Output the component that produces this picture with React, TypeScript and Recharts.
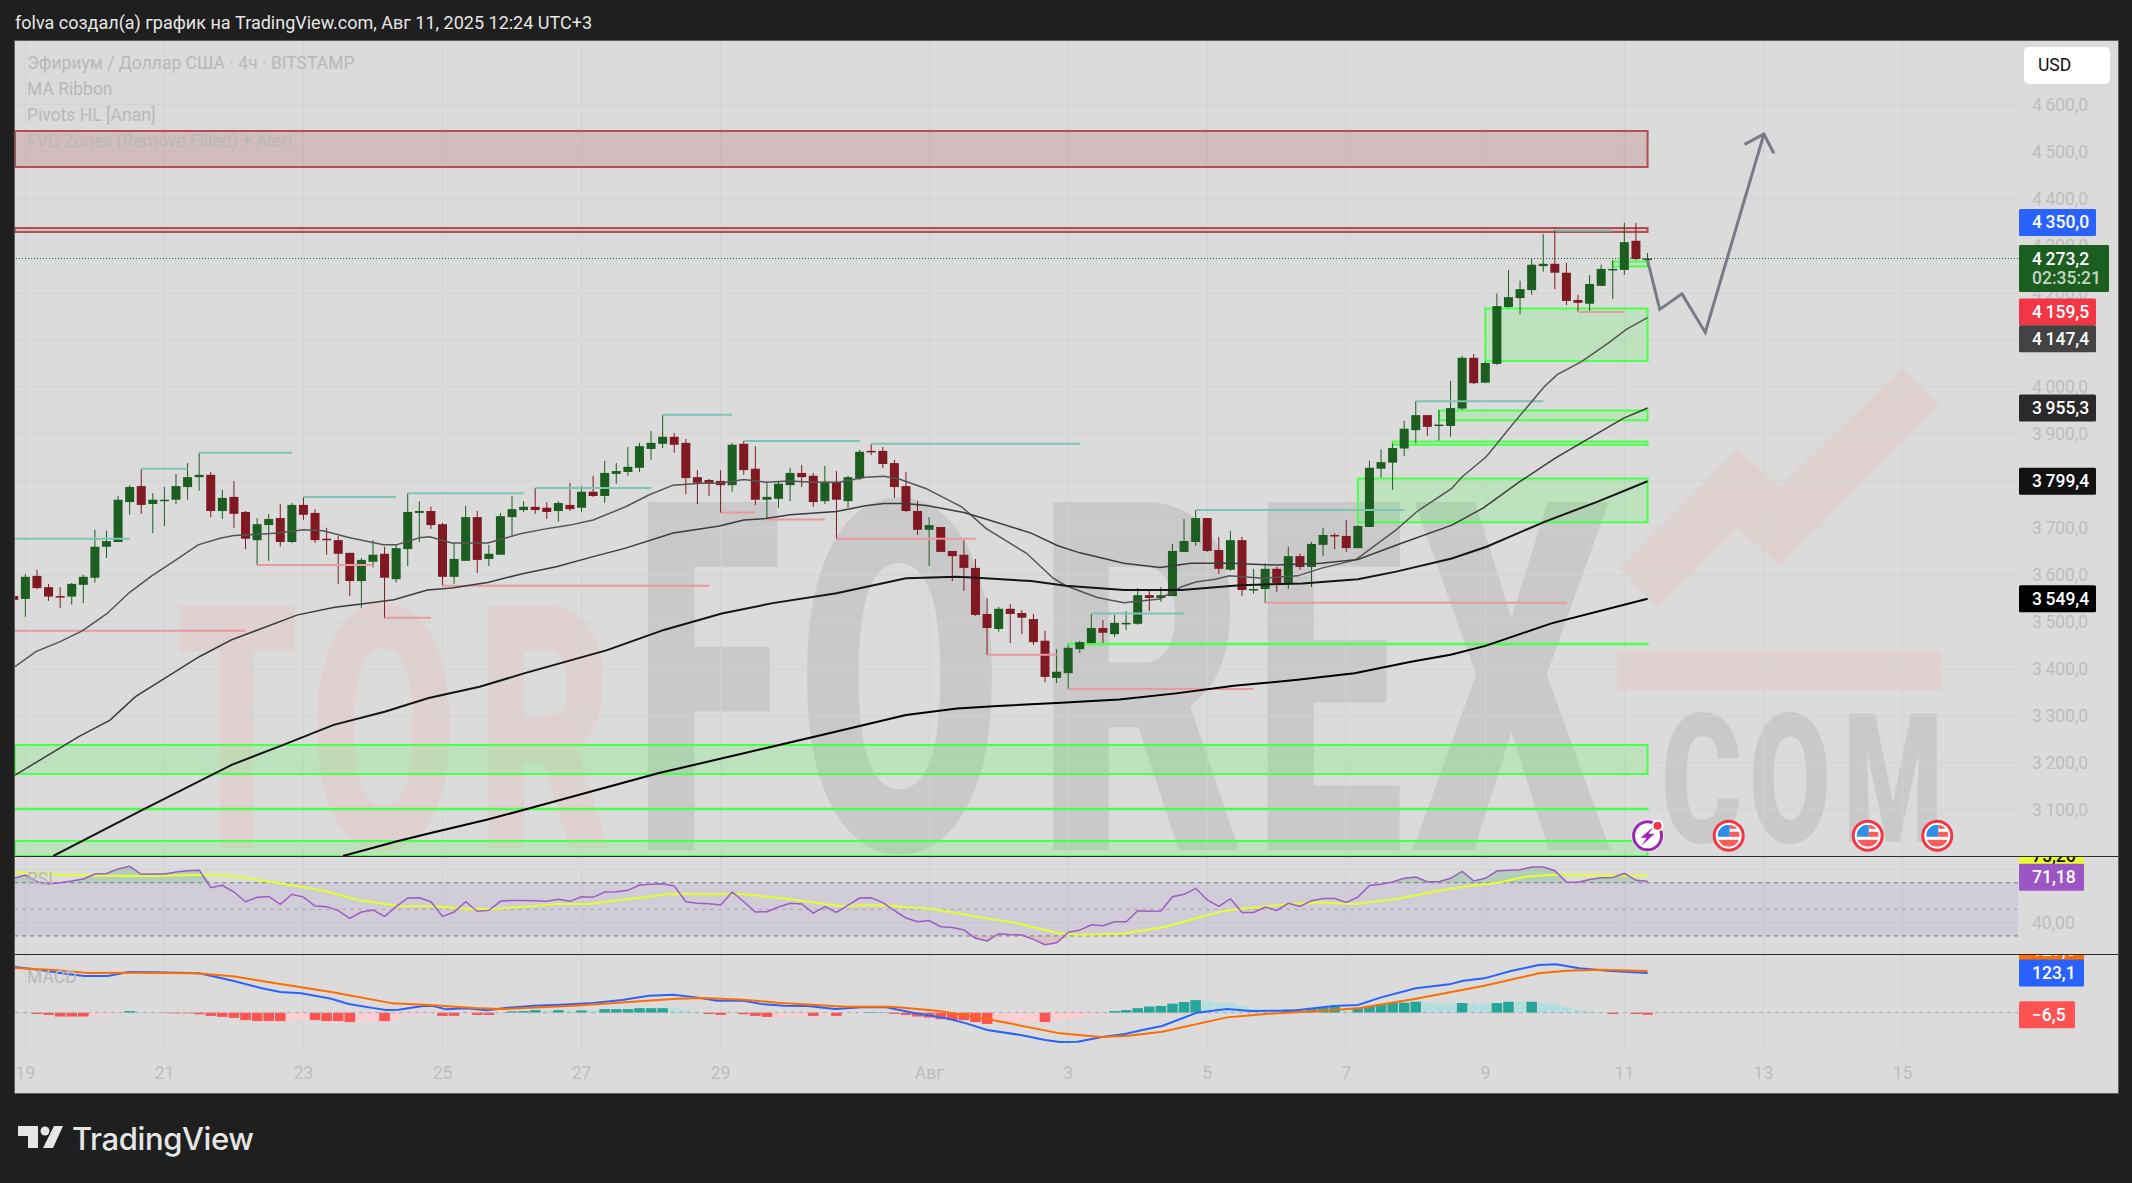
import { ComposedChart, Area, Bar, Line, XAxis, YAxis, CartesianGrid, ReferenceArea, ReferenceLine, ReferenceDot } from "recharts";

// ── CANDLES (4h bars, index 0 is bar -1) ──────────────────────
const FIRST_BAR = -1;
const opens = [
    3555, 3549, 3598, 3574, 3555, 3554, 3579, 3594, 3660, 3670, 3755,
    3789, 3751, 3757, 3760, 3787, 3808, 3813, 3736, 3766, 3734,
    3674, 3706, 3721, 3670, 3749, 3732, 3677, 3674, 3647, 3587,
    3628, 3645, 3591, 3655, 3732, 3736, 3708, 3596, 3630, 3723,
    3634, 3643, 3723, 3738, 3745, 3743, 3736, 3749, 3743, 3777,
    3768, 3815, 3819, 3828, 3868, 3879, 3894, 3881, 3808, 3802,
    3800, 3791, 3879, 3826, 3760, 3762, 3791, 3817, 3811, 3757,
    3798, 3757, 3806, 3864, 3864, 3838, 3789, 3736, 3696, 3702,
    3651, 3643, 3615, 3517, 3485, 3528, 3519, 3506, 3460, 3381,
    3391, 3442, 3455, 3487, 3474, 3496, 3496, 3557, 3551, 3555,
    3649, 3670, 3721, 3653, 3611, 3674, 3568, 3570, 3613, 3583,
    3640, 3617, 3664, 3685, 3683, 3657, 3702, 3826, 3839, 3869,
    3908, 3940, 3918, 3917, 3954, 4062, 4009, 4049, 4170, 4189,
    4206, 4257, 4262, 4243, 4185, 4177, 4215, 4249, 4249, 4311, 4272,
];
const closes = [
    3547, 3596, 3572, 3554, 3553, 3581, 3596, 3660, 3672, 3760, 3787,
    3749, 3760, 3760, 3789, 3808, 3813, 3736, 3764, 3730, 3677,
    3708, 3719, 3670, 3749, 3728, 3674, 3674, 3645, 3587, 3632,
    3643, 3594, 3657, 3734, 3736, 3706, 3596, 3634, 3723, 3632,
    3645, 3725, 3740, 3745, 3738, 3734, 3753, 3740, 3777, 3768,
    3817, 3821, 3830, 3874, 3881, 3894, 3877, 3806, 3796, 3796,
    3791, 3877, 3823, 3760, 3766, 3794, 3817, 3808, 3755, 3798,
    3760, 3808, 3862, 3862, 3836, 3787, 3736, 3696, 3706, 3649,
    3640, 3615, 3515, 3487, 3528, 3517, 3509, 3457, 3383, 3394,
    3445, 3457, 3487, 3477, 3498, 3498, 3557, 3551, 3557, 3651,
    3672, 3721, 3651, 3613, 3674, 3568, 3570, 3613, 3583, 3640,
    3617, 3666, 3685, 3683, 3657, 3704, 3828, 3840, 3870, 3911,
    3940, 3915, 3920, 3955, 4062, 4008, 4051, 4172, 4191, 4208,
    4260, 4262, 4243, 4183, 4179, 4219, 4251, 4251, 4308, 4272, 4273.2,
];
const highs = [
    3558, 3602, 3611, 3581, 3574, 3583, 3600, 3696, 3694, 3768, 3791,
    3825, 3774, 3787, 3815, 3838, 3860, 3819, 3781, 3800, 3736,
    3721, 3730, 3751, 3753, 3766, 3740, 3700, 3683, 3647, 3636,
    3674, 3660, 3664, 3774, 3757, 3745, 3711, 3668, 3747, 3736,
    3664, 3732, 3768, 3757, 3785, 3755, 3757, 3796, 3789, 3811,
    3843, 3838, 3872, 3881, 3906, 3940, 3902, 3889, 3823, 3804,
    3823, 3881, 3885, 3874, 3796, 3800, 3828, 3834, 3817, 3832,
    3821, 3811, 3866, 3879, 3872, 3845, 3819, 3757, 3723, 3702,
    3651, 3674, 3634, 3551, 3532, 3538, 3525, 3517, 3481, 3442,
    3451, 3460, 3517, 3504, 3515, 3523, 3572, 3566, 3574, 3666,
    3719, 3738, 3721, 3681, 3694, 3681, 3613, 3625, 3617, 3660,
    3645, 3670, 3700, 3689, 3717, 3706, 3843, 3867, 3880, 3928,
    3970, 3940, 3951, 4013, 4066, 4070, 4054, 4199, 4249, 4226,
    4272, 4325, 4334, 4264, 4196, 4238, 4260, 4270, 4349, 4349, 4285,
];
const lows = [
    3544, 3511, 3570, 3545, 3530, 3537, 3540, 3584, 3636, 3670, 3728,
    3730, 3689, 3704, 3751, 3760, 3779, 3723, 3719, 3700, 3655,
    3621, 3630, 3660, 3668, 3717, 3668, 3643, 3581, 3555, 3530,
    3616, 3508, 3584, 3619, 3670, 3698, 3577, 3581, 3630, 3604,
    3619, 3643, 3681, 3734, 3730, 3719, 3713, 3736, 3734, 3766,
    3753, 3794, 3811, 3819, 3845, 3870, 3860, 3772, 3751, 3768,
    3732, 3777, 3813, 3749, 3719, 3743, 3757, 3787, 3745, 3751,
    3677, 3743, 3802, 3855, 3828, 3764, 3734, 3685, 3619, 3649,
    3587, 3566, 3513, 3430, 3479, 3455, 3474, 3451, 3372, 3370,
    3357, 3434, 3455, 3455, 3468, 3483, 3494, 3523, 3543, 3555,
    3649, 3662, 3649, 3602, 3608, 3555, 3560, 3540, 3564, 3570,
    3611, 3574, 3640, 3655, 3649, 3657, 3702, 3807, 3781, 3853,
    3880, 3896, 3886, 3894, 3951, 4006, 4008, 4047, 4168, 4155,
    4196, 4245, 4208, 4174, 4160, 4160, 4215, 4187, 4238, 4270, 4257,
];

// ── MA RIBBON ─────────────────────────────────────────────────
const ma1Bars = [-0.9, 0.9, 3, 4.9, 7, 9, 10.9, 13, 14.9, 16.8, 18, 19.9, 21.8, 24, 25.7, 28, 30.9, 32, 34, 34.9, 36.8, 39.9, 42.8, 44.9, 47, 49, 51.8, 53.8, 55.9, 58.3, 59.9, 62, 63.9, 66, 67.9, 70.2, 72.5, 74.1, 75.4, 77.7, 80.8, 82.9, 86.4, 88.7, 89.8, 92.5, 94.8, 97.9, 99.8, 101, 102.7, 103.9, 106.8, 109.8, 111.8, 114.8, 118.3, 120.1, 123.1, 124, 126.1, 128.3, 131.1, 132.2, 134.3, 136.6, 138.2, 140];
const ma1Values = [3405, 3437, 3458, 3481, 3517, 3563, 3598, 3632, 3664, 3678, 3684, 3686, 3689, 3696, 3694, 3679, 3664, 3664, 3679, 3681, 3668, 3668, 3688, 3698, 3706, 3717, 3745, 3770, 3791, 3795, 3795, 3803, 3797, 3800, 3797, 3797, 3808, 3810, 3804, 3784, 3745, 3699, 3646, 3593, 3577, 3552, 3541, 3549, 3575, 3585, 3591, 3598, 3593, 3598, 3614, 3632, 3696, 3735, 3784, 3809, 3852, 3919, 4001, 4026, 4054, 4093, 4123, 4147.4];
const ma2Bars = [-0.9, 4.6, 7.3, 9.5, 15, 17.8, 23.5, 26.7, 29, 31.8, 34.7, 36.8, 39.9, 42.8, 45.9, 49, 51.8, 55.9, 59.9, 62, 63.9, 66, 70, 72.5, 74.1, 76, 77.9, 81, 83.3, 86.8, 89.1, 91, 94.8, 97.9, 100.6, 103.9, 107.9, 111.8, 115, 118.7, 123.1, 125.8, 129, 132, 134.5, 137.9, 140];
const ma2Values = [3174, 3256, 3291, 3341, 3426, 3462, 3515, 3531, 3538, 3547, 3568, 3572, 3584, 3602, 3618, 3639, 3657, 3689, 3704, 3717, 3720, 3728, 3735, 3747, 3752, 3752, 3747, 3733, 3716, 3689, 3662, 3647, 3625, 3616, 3625, 3625, 3621, 3625, 3633, 3667, 3706, 3742, 3799, 3848, 3884, 3933, 3955.3];
const ma3Bars = [2.4, 10.1, 17.8, 22.2, 26.6, 31, 34.8, 39.2, 43.1, 50.2, 55.1, 60.1, 64.5, 70, 76, 80.4, 82.1, 86.8, 89.8, 94.8, 99.8, 104.8, 110.2, 115, 118.3, 123.1, 126.1, 131.1, 135.7, 140];
const ma3Values = [3002, 3100, 3196, 3238, 3281, 3309, 3338, 3362, 3391, 3440, 3483, 3518, 3540, 3561, 3593, 3596, 3594, 3587, 3577, 3568, 3568, 3578, 3582, 3591, 3607, 3635, 3660, 3713, 3756, 3799.4];
const ma4Bars = [27.4, 32, 34.8, 39.8, 43.6, 54.6, 64.5, 70, 76, 80.4, 83.9, 89.4, 94.4, 99.3, 104.3, 109.8, 114.7, 119.7, 123, 126, 131.7, 140];
const ma4Values = [3002, 3033, 3050, 3079, 3104, 3178, 3235, 3267, 3302, 3316, 3321, 3328, 3335, 3348, 3364, 3377, 3391, 3416, 3430, 3449, 3497, 3549.4];

// ── PIVOTS HL ─────────────────────────────────────────────────
const pivotHighFrom = [-0.9, 10, 15, 24, 33, 44, 55, 62, 73, 92, 101, 120, 132];
const pivotHighTo = [9, 14, 23, 32, 43, 54, 61, 72, 91, 100, 119, 131, 137];
const pivotHighPrice = [3677, 3826, 3860, 3766, 3774, 3785, 3941, 3885, 3879, 3518, 3738, 3969.5, 4332.6];
const pivotLowFrom = [-0.9, 20, 31, 36, 60, 64, 70, 83, 90, 107, 134];
const pivotLowTo = [19, 30, 35, 59, 63, 69, 82, 89, 106, 133, 138];
const pivotLowPrice = [3481.5, 3621, 3509, 3577, 3732.6, 3718, 3677, 3430, 3357.4, 3541, 4159.5];

// ── FVG ZONES ─────────────────────────────────────────────────
const greenZoneFrom = [126, 122, 118, 115, 137, 90, -0.9, -0.9, -0.9];
const greenZoneTop = [4167, 3949.6, 3884, 3805, 4267, 3453.4, 3238, 3102.4, 3034];
const greenZoneBottom = [4055, 3929, 3877, 3712, 4256, 3452.6, 3176.6, 3101.6, 3002];
const redZoneTop = [4544.7, 4338.3];
const redZoneBottom = [4468, 4329.8];

// ── HAND DRAWN ARROW ──────────────────────────────────────────
const arrowBars = [140, 141.05, 142.97, 144.98, 150.04];
const arrowPrices = [4270, 4165, 4198, 4116, 4538];
const arrowHeadBars = [148.37, 150.04, 150.9];
const arrowHeadPrices = [4516, 4538, 4497];

// ── RSI ───────────────────────────────────────────────────────
const rsiValues = [
    73.3, 75.8, 70.8, 69.3, 70, 71.3, 72.8, 76.5, 77, 80.3, 82.3,
    76.3, 76.5, 76.5, 78, 79, 79.3, 66.3, 68, 63, 55.7,
    59, 59.7, 53.7, 61.3, 59.2, 52.5, 52, 49, 43.2, 48,
    49.5, 44.7, 52, 58.5, 58.7, 55.7, 44.7, 48, 55.7, 48.5,
    49.2, 56, 56.7, 56.7, 56.5, 56, 57.5, 56, 59.5, 59,
    63, 63.3, 64.3, 68.3, 68.8, 69.3, 67.5, 55.7, 54.5, 54.2,
    53.2, 63, 55.7, 48, 48.2, 51.7, 54.5, 54, 47.2, 52,
    47.7, 53.2, 58.5, 58.7, 55, 49, 43.5, 40.7, 41.5, 36.9,
    36.4, 34.4, 28.2, 26.2, 31.7, 30.9, 30.7, 27.4, 23.4, 24.9,
    32.7, 34.4, 38.4, 37.7, 40.7, 40.7, 49, 48.5, 48.7, 59.5,
    61.3, 65.8, 57, 52.2, 58, 47.7, 47.7, 51.7, 49.2, 54.5,
    52.2, 56.5, 58.2, 58.2, 55.2, 59.2, 68, 68.8, 70.5, 73.3,
    74.3, 70.8, 70.8, 73.3, 78.5, 71.3, 73.3, 78.8, 79.3, 79.8,
    81.8, 81.8, 79, 70.5, 70.3, 72.5, 73.8, 74, 77, 71.8, 71.18,
];
const rsiMaBars = [-0.9, 3.1, 6.6, 11.2, 15.3, 17.9, 21.1, 25.8, 28.7, 32.2, 35.2, 38.1, 40.7, 43.9, 45.7, 48.6, 52.1, 55.6, 59.1, 62, 65.5, 70.2, 73.7, 78.3, 83, 85.3, 89.3, 91.1, 94.6, 98.1, 100.5, 103.5, 105.2, 108.8, 111.7, 114.7, 118.2, 122.3, 124.7, 127.1, 129.4, 131.8, 134.1, 140];
const rsiMaValues = [77.8, 76, 75.3, 75, 76, 75, 70.8, 64, 57, 52.7, 52.5, 50.2, 50.5, 52.5, 54, 54, 57.7, 61.5, 61.3, 61.3, 58.2, 52.5, 53.2, 50.2, 43.2, 40, 31.9, 30.9, 31.7, 36.4, 42, 49, 50.7, 53.7, 55.2, 54, 57.5, 64.5, 67.5, 70, 74.5, 76, 75.5, 75.26];

// ── MACD ──────────────────────────────────────────────────────
const macdBars = [-0.9, 1.3, 3.6, 5.1, 7.1, 8.9, 11.2, 15, 17.9, 20.3, 22, 23.8, 26.4, 27.9, 30.2, 31.1, 32.2, 34.3, 35.2, 36.3, 38.1, 39.8, 41.6, 43.9, 46.2, 48.6, 51.5, 53.8, 55.9, 57.9, 59.7, 62, 63.7, 65.5, 67.5, 69.9, 72.5, 74.3, 76.6, 79.5, 81.2, 83, 85.9, 88, 89.3, 90.8, 92.8, 94.9, 96.4, 98.1, 101.1, 103.7, 105.8, 109.3, 112.9, 115, 117, 120, 122.9, 124.1, 125.9, 128.2, 130.6, 132.1, 134.1, 136.5, 140];
const macdValues = [141.6, 132.3, 119.9, 113.7, 113.7, 126.1, 125.1, 122, 99.2, 76.5, 64.1, 60, 43.4, 26.9, 13.4, 8.3, 9.3, 20.7, 20.7, 10.3, 13.4, 7.2, 15.5, 21.7, 24.8, 28.9, 39.3, 52.7, 55.8, 47.5, 37.2, 37.2, 25.8, 21.7, 20.7, 11.4, 17.6, 16.5, 0, -17.6, -33.1, -53.7, -69.3, -84.7, -91, -89.9, -76.5, -66.2, -53.7, -41.3, 0, 11.4, 5.2, 6.2, 20.7, 23.8, 47.5, 75.5, 87.9, 99.2, 106.5, 129.2, 147.8, 149.9, 137.5, 130.2, 123.1];
const signalBars = [-0.9, 2.5, 5.4, 9.5, 14.7, 17.9, 22, 26.4, 31.7, 35.2, 38.7, 41, 44.5, 48, 52.1, 56.2, 58.5, 62, 64.9, 70.8, 74.8, 78.9, 83, 89.3, 92.8, 95.2, 98.1, 103.7, 107, 112.9, 115.2, 120, 125.9, 130.6, 133, 135.9, 140];
const signalValues = [138.5, 132.3, 123, 124, 122, 112.7, 88.9, 64.1, 28.9, 22.7, 14.5, 11.4, 16.5, 22.7, 33.1, 43.4, 45.5, 40.3, 31, 18.6, 18.6, 5.2, -19.6, -64.1, -75.5, -71.3, -58.9, -14.5, -4.1, 8.3, 14.5, 43.4, 83.7, 122, 130.2, 133.3, 129.6];
const histValues = [
    2, 1, -4, -7, -12, -12, -12, -10, -6, -2, 5,
    3, 1, -1, -2, -2, -5, -10, -13, -16, -23,
    -26, -26, -26, -24, -20, -23, -26, -26, -29, -27,
    -26, -26, -23, -8, -6, -3, -10, -10, -3, -7,
    -7, -2, 4, 5, 8, 6, 8, 5, 7, 8,
    11, 11, 11, 14, 14, 14, 14, 9, 3, -4,
    -7, -3, -5, -10, -13, -13, -9, -8, -10, -7,
    -10, -5, -2, 2, 1, -4, -7, -12, -15, -20,
    -23, -23, -29, -35, -28, -28, -28, -28, -29, -23,
    -19, -14, -8, -3, 5, 8, 14, 19, 21, 28,
    33, 39, 36, 30, 30, 21, 12, 9, 6, 10,
    7, 12, 16, 18, 8, 13, 21, 26, 30, 31,
    34, 30, 28, 28, 30, 28, 28, 30, 34, 34,
    34, 30, 28, 18, 8, 5, 2, -4, -1, -4, -6.5,
];
// T strong up, L weak up, R strong down, P weak down
const histKinds = (
    "LLRRRRRPPPT" + "LLRRRRRRRR" + "RRRPPRRRRP" + "PRPPPPRRPR" + "RPTTTLTLTL" +
    "TTTTTTLLLR" + "RPRRRPPPRP" + "RPPTTRRRRR" + "RRRRPPPPRP" + "PPPPTTTTTT" +
    "TTLLLLLLLT" + "LTTTLTTTTT" + "TLLLTLLTTL" + "TLLLLLLRPRR"
).split("");

// ── TICKS / LABELS ────────────────────────────────────────────
const priceTicks = [3100, 3200, 3300, 3400, 3500, 3600, 3700, 3800, 3900, 4000, 4100, 4200, 4300, 4400, 4500, 4600];
const timeTicks = [0, 12, 24, 36, 48, 60, 78, 90, 102, 114, 126, 138, 150, 162];
const timeLabels = ["19", "21", "23", "25", "27", "29", "Авг", "3", "5", "7", "9", "11", "13", "15"];
const legendLines = ["Эфириум / Доллар США · 4ч · BITSTAMP", "MA Ribbon", "Pivots HL [Anan]", "FVG Zones (Remove Filled) + Alert"];
const flagBars = [147, 159, 165];
const splitBar = 140;
const eventPrice = 3045;

// ── DERIVED TABLES ────────────────────────────────────────────
const candles = opens.map((open, i) => ({
    t: i + FIRST_BAR, open, close: closes[i], high: highs[i], low: lows[i],
}));
const histRows = histValues.map((hist, i) => ({ t: i + FIRST_BAR, hist, kind: histKinds[i] }));
const rsiRows = rsiValues.map((v, i) => ({
    t: i + FIRST_BAR, v,
    over: [70, Math.max(v, 70)],
    under: [Math.min(v, 30), 30],
}));
const pairs = (ts: number[], vs: number[]) => ts.map((t, i) => ({ t, v: vs[i] }));

// ── LAYOUT ────────────────────────────────────────────────────
const FONT = "Roboto, sans-serif";
const BAR_MIN = -0.9;
const BAR_MAX = 171.97;
const PRICE_DOMAIN = [3002, 4736];
const CHART_W = 2103;
const AXIS_W = 100;
const GREEN = "#1b5e20";
const RED = "#801922";
const HIST_COLORS: Record<string, string> = { T: "#26a69a", L: "#b2dfdb", R: "#ff5252", P: "#ffcdd2" };
const AXIS_TEXT = { fill: "#bdbdbd", fontSize: 17.5, fontFamily: FONT };

const fmtPrice = (p: number) => {
    const s = p.toFixed(1).replace(".", ",");
    return s.slice(0, 1) + "\u2009" + s.slice(1);
};

// ── CANDLE SHAPE ──────────────────────────────────────────────
const CandleShape = ({ x, y, width, height, payload }: any) => {
    const { open, close, high, low } = payload;
    const pxPerUnit = height / (high - low);
    const up = close >= open;
    const color = up ? GREEN : RED;
    const bodyTop = y + (high - Math.max(open, close)) * pxPerUnit;
    const bodyH = Math.max(Math.abs(open - close) * pxPerUnit, 1.5);
    const cx = x + width / 2;
    return (
        <g>
            <line x1={cx} x2={cx} y1={y} y2={y + height} stroke={color} strokeWidth={1} />
            <rect x={cx - 4.5} y={bodyTop} width={9} height={bodyH} fill={color} />
        </g>
    );
};

const HistShape = ({ x, y, width, height, payload }: any) => {
    const cx = x + width / 2;
    return (
        <rect
            x={cx - 5.3} width={10.6}
            y={Math.min(y, y + height)} height={Math.abs(height)}
            fill={HIST_COLORS[payload.kind]}
        />
    );
};

// ── PRICE TAG ON THE AXIS ─────────────────────────────────────
const PriceTag = ({ cx, cy, text, bg, color = "#fff", w = 77, h = 27, dy = 0, sub }: any) => {
    const left = cx + 1;
    const top = cy + dy - 13.5;
    return (
        <g>
            <rect x={left} y={top} width={w} height={sub ? 47 : h} rx={1.5} fill={bg} />
            <text x={left + 13} y={top + 19.5} fill={color} fontSize={17.5} fontWeight={500} fontFamily={FONT}>{text}</text>
            {sub && <text x={left + 13} y={top + 38.5} fill="#c3d6c4" fontSize={17.5} fontWeight={500} fontFamily={FONT}>{sub}</text>}
        </g>
    );
};

// ── EVENT MARKS ───────────────────────────────────────────────
const FlagMark = ({ cx, cy, id }: any) => (
    <g>
        <clipPath id={id}><circle cx={cx} cy={cy} r={11} /></clipPath>
        <circle cx={cx} cy={cy} r={14.5} fill="#fff" stroke="#f23645" strokeWidth={3} />
        <g clipPath={`url(#${id})`}>
            <rect x={cx - 11} y={cy + 4} width={22} height={7} fill="#f85c5c" />
            <rect x={cx + 1} y={cy - 11} width={10} height={4} fill="#f85c5c" />
            <rect x={cx + 1} y={cy - 4} width={10} height={5} fill="#f85c5c" />
            <rect x={cx - 11} y={cy - 11} width={12} height={12} fill="#2f8fe8" />
        </g>
    </g>
);

const SplitMark = ({ cx, cy }: any) => (
    <g>
        <circle cx={cx} cy={cy} r={16} fill="#fff" />
        <circle cx={cx} cy={cy} r={14} fill="#fff" stroke="#9c27b0" strokeWidth={3} />
        <path d={`M${cx + 6} ${cy - 9} L${cx - 7} ${cy + 2} L${cx - 1} ${cy + 2} L${cx - 6} ${cy + 10} L${cx + 7} ${cy - 2} L${cx + 1} ${cy - 2} Z`} fill="#9c27b0" />
        <circle cx={cx + 10} cy={cy - 10} r={6} fill="#fff" />
        <circle cx={cx + 10} cy={cy - 10} r={4} fill="#f23645" />
    </g>
);

// ── WATERMARK ─────────────────────────────────────────────────
const Letter = ({ ch, x0, x1, y0, y1, fill }: any) => (
    <text
        x={x0} y={y1} fill={fill}
        fontFamily={FONT} fontWeight={900} fontSize={(y1 - y0) / 0.711}
        textLength={x1 - x0} lengthAdjust="spacingAndGlyphs"
    >
        {ch}
    </text>
);

const PINK = "#e0d1d1";
const GREY = "#c9c9c9";

const Watermark = () => (
    <svg width={2132} height={1183} style={{ position: "absolute", left: 0, top: 0 }}>
        <clipPath id="wmClip"><rect x={15} y={41} width={2003} height={815} /></clipPath>
        <g clipPath="url(#wmClip)">
            <Letter ch="T" x0={176} x1={298} y0={606} y1={848} fill={PINK} />
            <Letter ch="O" x0={310} x1={457} y0={606} y1={848} fill={PINK} />
            <Letter ch="R" x0={477} x1={613} y0={606} y1={848} fill={PINK} />
            <Letter ch="F" x0={633} x1={782} y0={502} y1={850} fill={GREY} />
            <Letter ch="O" x0={797} x1={1002} y0={502} y1={850} fill={GREY} />
            <Letter ch="R" x0={1036} x1={1246} y0={502} y1={850} fill={GREY} />
            <Letter ch="E" x0={1253} x1={1404} y0={502} y1={850} fill={GREY} />
            <Letter ch="X" x0={1412} x1={1611} y0={502} y1={850} fill={GREY} />
            <Letter ch="C" x0={1661} x1={1742} y0={714} y1={842} fill={GREY} />
            <Letter ch="O" x0={1749} x1={1831} y0={714} y1={842} fill={GREY} />
            <Letter ch="M" x0={1843} x1={1943} y0={714} y1={842} fill={GREY} />
            <rect x={1617} y={651} width={324} height={39} fill={PINK} />
            <polygon points="1620,568 1738,449 1780,487 1902,368 1939,405 1780,566 1738,528 1658,608" fill={PINK} />
        </g>
    </svg>
);

// ── MAIN PRICE PANE ───────────────────────────────────────────
const PricePane = () => (
    <ComposedChart width={CHART_W} height={815} data={candles} margin={{ top: 0, right: 0, left: 0, bottom: 0 }}>
        <CartesianGrid stroke="#d2d2d2" horizontalValues={priceTicks} verticalValues={timeTicks} />
        <XAxis type="number" dataKey="t" domain={[BAR_MIN, BAR_MAX]} allowDataOverflow hide />
        <YAxis
            orientation="right" width={AXIS_W} domain={PRICE_DOMAIN} allowDataOverflow
            ticks={priceTicks} tickFormatter={fmtPrice} tick={AXIS_TEXT}
            tickLine={false} axisLine={false} tickSize={0} tickMargin={14} interval={0}
        />
        {redZoneTop.map((top, i) => (
            <ReferenceArea key={`r${i}`} x1={BAR_MIN} x2={140} y1={redZoneBottom[i]} y2={top}
                fill="#a02828" fillOpacity={0.17} stroke="#b05052" strokeWidth={2} ifOverflow="hidden" />
        ))}
        {greenZoneTop.map((top, i) => (
            <ReferenceArea key={`g${i}`} x1={greenZoneFrom[i]} x2={140} y1={greenZoneBottom[i]} y2={top}
                fill="#3cff3c" fillOpacity={0.18} stroke="#4cff4c" strokeWidth={2} ifOverflow="hidden" />
        ))}
        {pivotHighPrice.map((p, i) => (
            <ReferenceLine key={`ph${i}`} stroke="#7fc2b6" strokeWidth={2}
                segment={[{ x: pivotHighFrom[i], y: p }, { x: pivotHighTo[i], y: p }]} />
        ))}
        {pivotLowPrice.map((p, i) => (
            <ReferenceLine key={`pl${i}`} stroke="#e89aa0" strokeWidth={2}
                segment={[{ x: pivotLowFrom[i], y: p }, { x: pivotLowTo[i], y: p }]} />
        ))}
        <ReferenceLine y={4273.2} stroke={GREEN} strokeDasharray="1 2" />
        <Bar dataKey={(d: any) => [d.low, d.high]} barSize={9} shape={<CandleShape />} isAnimationActive={false} />
        <Line data={pairs(ma1Bars, ma1Values)} dataKey="v" stroke="#555" strokeWidth={1.5} dot={false} isAnimationActive={false} />
        <Line data={pairs(ma2Bars, ma2Values)} dataKey="v" stroke="#3c3c3c" strokeWidth={1.5} dot={false} isAnimationActive={false} />
        <Line data={pairs(ma3Bars, ma3Values)} dataKey="v" stroke="#151515" strokeWidth={2} dot={false} isAnimationActive={false} />
        <Line data={pairs(ma4Bars, ma4Values)} dataKey="v" stroke="#000" strokeWidth={2} dot={false} isAnimationActive={false} />
        <Line data={pairs(arrowBars, arrowPrices)} dataKey="v" stroke="#787b86" strokeWidth={3} dot={false} isAnimationActive={false} />
        <Line data={pairs(arrowHeadBars, arrowHeadPrices)} dataKey="v" stroke="#787b86" strokeWidth={3} dot={false} isAnimationActive={false} />
        {flagBars.map((t, i) => (
            <ReferenceDot key={t} x={t} y={eventPrice} ifOverflow="visible"
                shape={(p: any) => <FlagMark cx={p.cx} cy={p.cy} id={`flag${i}`} />} />
        ))}
        <ReferenceDot x={splitBar} y={eventPrice} ifOverflow="visible" shape={(p: any) => <SplitMark cx={p.cx} cy={p.cy} />} />
    </ComposedChart>
);

// tags sit in their own layer so the axis labels stay under them
const PriceTags = () => (
    <ComposedChart width={CHART_W} height={815} data={candles} margin={{ top: 0, right: AXIS_W, left: 0, bottom: 0 }}>
        <XAxis type="number" dataKey="t" domain={[BAR_MIN, BAR_MAX]} allowDataOverflow hide />
        <YAxis domain={PRICE_DOMAIN} allowDataOverflow hide />
        <ReferenceDot x={BAR_MAX} y={4350} ifOverflow="visible"
            shape={(p: any) => <PriceTag cx={p.cx} cy={p.cy} text={fmtPrice(4350)} bg="#2962ff" />} />
        <ReferenceDot x={BAR_MAX} y={4273.2} ifOverflow="visible"
            shape={(p: any) => <PriceTag cx={p.cx} cy={p.cy} text={fmtPrice(4273.2)} sub="02:35:21" bg={GREEN} w={90} />} />
        <ReferenceDot x={BAR_MAX} y={4159.5} ifOverflow="visible"
            shape={(p: any) => <PriceTag cx={p.cx} cy={p.cy} text={fmtPrice(4159.5)} bg="#f23645" />} />
        <ReferenceDot x={BAR_MAX} y={4147.4} ifOverflow="visible"
            shape={(p: any) => <PriceTag cx={p.cx} cy={p.cy} dy={21} text={fmtPrice(4147.4)} bg="#434343" />} />
        <ReferenceDot x={BAR_MAX} y={3955.3} ifOverflow="visible"
            shape={(p: any) => <PriceTag cx={p.cx} cy={p.cy} text={fmtPrice(3955.3)} bg="#2a2a2a" />} />
        <ReferenceDot x={BAR_MAX} y={3799.4} ifOverflow="visible"
            shape={(p: any) => <PriceTag cx={p.cx} cy={p.cy} text={fmtPrice(3799.4)} bg="#121212" />} />
        <ReferenceDot x={BAR_MAX} y={3549.4} ifOverflow="visible"
            shape={(p: any) => <PriceTag cx={p.cx} cy={p.cy} text={fmtPrice(3549.4)} bg="#000" />} />
    </ComposedChart>
);

// ── RSI PANE ──────────────────────────────────────────────────
const RsiPane = () => (
    <ComposedChart width={CHART_W} height={98} data={rsiRows} margin={{ top: 0, right: 0, left: 0, bottom: 0 }}>
        <CartesianGrid stroke="#d2d2d2" horizontalValues={[40, 80]} verticalValues={timeTicks} />
        <XAxis type="number" dataKey="t" domain={[BAR_MIN, BAR_MAX]} allowDataOverflow hide />
        <YAxis
            orientation="right" width={AXIS_W} domain={[16.4, 90.1]} allowDataOverflow
            ticks={[40]} tickFormatter={(v: number) => `${v},00`} tick={AXIS_TEXT}
            tickLine={false} axisLine={false} tickSize={0} tickMargin={14}
        />
        <ReferenceArea y1={30} y2={70} fill="#7e57c2" fillOpacity={0.1} />
        <ReferenceLine y={70} stroke="#787b86" strokeDasharray="4 4" />
        <ReferenceLine y={50} stroke="#a8a8ac" strokeDasharray="4 4" />
        <ReferenceLine y={30} stroke="#787b86" strokeDasharray="4 4" />
        <Area dataKey="over" stroke="none" fill="#2e9e4f" fillOpacity={0.22} dot={false} isAnimationActive={false} />
        <Area dataKey="under" stroke="none" fill="#e5484d" fillOpacity={0.18} dot={false} isAnimationActive={false} />
        <Line data={pairs(rsiMaBars, rsiMaValues)} dataKey="v" stroke="#e4ff2e" strokeWidth={2} dot={false} isAnimationActive={false} />
        <Line dataKey="v" stroke="#9c5cc6" strokeWidth={1.5} dot={false} isAnimationActive={false} />
        <ReferenceDot x={BAR_MAX} y={75.26} ifOverflow="visible"
            shape={(p: any) => <PriceTag cx={p.cx} cy={p.cy} dy={-20} w={65} text="75,26" bg="#e6ff2e" color="#111" />} />
        <ReferenceDot x={BAR_MAX} y={71.18} ifOverflow="visible"
            shape={(p: any) => <PriceTag cx={p.cx} cy={p.cy} dy={-4} w={65} text="71,18" bg="#9c55c5" />} />
    </ComposedChart>
);

// ── MACD PANE ─────────────────────────────────────────────────
const MacdPane = () => (
    <ComposedChart width={CHART_W} height={139} data={histRows} margin={{ top: 0, right: AXIS_W, left: 0, bottom: 0 }}>
        <CartesianGrid stroke="#d2d2d2" horizontal={false} verticalValues={timeTicks} />
        <XAxis
            type="number" dataKey="t" domain={[BAR_MIN, BAR_MAX]} allowDataOverflow height={43}
            ticks={timeTicks} interval={0} tickFormatter={(t: number) => timeLabels[timeTicks.indexOf(t)]}
            tick={AXIS_TEXT} tickLine={false} axisLine={false} tickSize={0} tickMargin={17}
        />
        <YAxis domain={[-115.7, 182]} allowDataOverflow hide />
        <ReferenceLine y={0} stroke="#a8a8ac" strokeDasharray="4 4" />
        <Bar dataKey="hist" barSize={10} shape={<HistShape />} isAnimationActive={false} />
        <Line data={pairs(macdBars, macdValues)} dataKey="v" stroke="#2962ff" strokeWidth={2} dot={false} isAnimationActive={false} />
        <Line data={pairs(signalBars, signalValues)} dataKey="v" stroke="#ff6d00" strokeWidth={2} dot={false} isAnimationActive={false} />
        <ReferenceDot x={BAR_MAX} y={129.6} ifOverflow="visible"
            shape={(p: any) => <PriceTag cx={p.cx} cy={p.cy} dy={-21} w={65} text="129,6" bg="#ff6d00" />} />
        <ReferenceDot x={BAR_MAX} y={123.1} ifOverflow="visible"
            shape={(p: any) => <PriceTag cx={p.cx} cy={p.cy} w={65} text="123,1" bg="#2962ff" />} />
        <ReferenceDot x={BAR_MAX} y={-6.5} ifOverflow="visible"
            shape={(p: any) => <PriceTag cx={p.cx} cy={p.cy} dy={0} w={56} text="−6,5" bg="#ff5252" />} />
    </ComposedChart>
);

// ── PAGE ──────────────────────────────────────────────────────
const paneStyle = (top: number, height: number): any => ({
    position: "absolute", left: 15, top, width: CHART_W, height, overflow: "hidden",
});
const rule = (top: number): any => ({
    position: "absolute", left: 15, top, width: 2103, height: 1.5, background: "#2b2b2b",
});
const legendText: any = { position: "absolute", left: 27, fontSize: 17.5, color: "#b8b8b8", whiteSpace: "nowrap" };

export default function App() {
    return (
        <div style={{ position: "absolute", left: 0, top: 0, width: 2132, height: 1183, background: "#1f1f1f", overflow: "hidden", fontFamily: FONT }}>
            <div style={{ position: "absolute", left: 15, top: 12, fontSize: 18, color: "#e6e6e6", whiteSpace: "nowrap" }}>
                folva создал(а) график на TradingView.com, Авг 11, 2025 12:24 UTC+3
            </div>
            <div style={{ position: "absolute", left: 15, top: 41, width: 2103, height: 1052, background: "#dbdbdb", boxShadow: "0 0 0 1px #5e5e5e" }} />
            <Watermark />
            <div style={paneStyle(41, 815)}><PricePane /></div>
            <div style={paneStyle(41, 815)}><PriceTags /></div>
            <div style={paneStyle(856, 98)}><RsiPane /></div>
            <div style={paneStyle(954, 139)}><MacdPane /></div>
            <div style={rule(855.5)} />
            <div style={rule(953.5)} />

            {legendLines.map((line, i) => (
                <div key={line} style={{ ...legendText, top: 53 + i * 26 }}>{line}</div>
            ))}
            <div style={{ ...legendText, top: 869 }}>RSI</div>
            <div style={{ ...legendText, top: 967 }}>MACD</div>

            <div style={{ position: "absolute", left: 2024, top: 47, width: 86, height: 37, background: "#fff", borderRadius: 5, fontSize: 17.5, color: "#111", lineHeight: "37px", paddingLeft: 14, boxSizing: "border-box" }}>USD</div>

            <svg width={60} height={30} style={{ position: "absolute", left: 16, top: 1124 }}>
                <path d="M2 2 H22 V24 H12 V12 H2 Z" fill="#e6e6e6" />
                <circle cx={29} cy={7} r={4.5} fill="#e6e6e6" />
                <path d="M38 2 H47 L37 24 H27 Z" fill="#e6e6e6" />
            </svg>
            <div style={{ position: "absolute", left: 72, top: 1120, fontSize: 31, fontWeight: 500, fontFamily: "Inter, sans-serif", letterSpacing: -0.4, color: "#e6e6e6" }}>TradingView</div>
        </div>
    );
}
